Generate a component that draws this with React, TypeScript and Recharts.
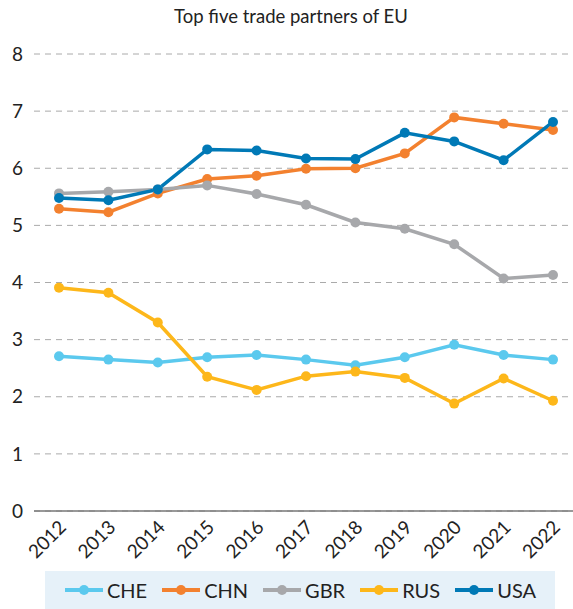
import React from 'react';
import { LineChart, Line, XAxis, YAxis, CartesianGrid, Legend } from 'recharts';

const years = ['2012', '2013', '2014', '2015', '2016', '2017', '2018', '2019', '2020', '2021', '2022'];

const che = [2.71, 2.65, 2.6, 2.69, 2.73, 2.65, 2.55, 2.69, 2.91, 2.73, 2.65];
const chn = [5.29, 5.23, 5.56, 5.81, 5.87, 5.99, 6.0, 6.26, 6.89, 6.78, 6.67];
const gbr = [5.56, 5.59, 5.63, 5.7, 5.55, 5.36, 5.05, 4.94, 4.67, 4.07, 4.13];
const rus = [3.91, 3.82, 3.3, 2.35, 2.12, 2.36, 2.44, 2.33, 1.88, 2.32, 1.93];
const usa = [5.48, 5.44, 5.63, 6.33, 6.31, 6.17, 6.16, 6.62, 6.47, 6.14, 6.81];

const yTicks = [0, 1, 2, 3, 4, 5, 6, 7, 8];

const seriesList = [
  { key: 'CHE', color: '#5BC9EE' },
  { key: 'CHN', color: '#F3812F' },
  { key: 'GBR', color: '#A7A8AB' },
  { key: 'RUS', color: '#FDB71A' },
  { key: 'USA', color: '#0079B6' },
];

const data = years.map((year, i) => ({
  year,
  CHE: che[i],
  CHN: chn[i],
  GBR: gbr[i],
  RUS: rus[i],
  USA: usa[i],
}));

const FONT = 'Lato, "Open Sans", sans-serif';

function YearTick({ x, y, payload }: any) {
  return (
    <g transform={`translate(${x - 1},${y})`}>
      <text
        transform="rotate(-45)"
        textAnchor="end"
        dy="0.7em"
        fontSize={19}
        fontFamily={FONT}
        fill="#222"
      >
        {payload.value}
      </text>
    </g>
  );
}

function renderLegend() {
  return (
    <div
      style={{
        display: 'flex',
        justifyContent: 'center',
        alignItems: 'center',
        height: 38,
        background: '#E6F1F9',
        fontFamily: FONT,
        fontSize: 20,
        color: '#222',
      }}
    >
      {seriesList.map((s) => (
        <div key={s.key} style={{ display: 'flex', alignItems: 'center', margin: '0 7px' }}>
          <svg width={40} height={12} style={{ marginRight: 3 }}>
            <line x1={1} y1={6} x2={39} y2={6} stroke={s.color} strokeWidth={4} />
            <circle cx={20} cy={6} r={5} fill={s.color} />
          </svg>
          <span>{s.key}</span>
        </div>
      ))}
    </div>
  );
}

export default function App() {
  return (
    <div style={{ position: 'absolute', left: 0, top: 0, width: 573, height: 609, background: '#fff' }}>
      <div
        style={{
          position: 'absolute',
          top: 5,
          left: 0,
          width: 582,
          textAlign: 'center',
          fontFamily: FONT,
          fontSize: 18.5,
          color: '#222',
        }}
      >
        Top five trade partners of EU
      </div>
      <LineChart
        width={573}
        height={609}
        data={data}
        margin={{ top: 54, right: 0, left: 0, bottom: 0 }}
      >
        <CartesianGrid vertical={false} stroke="#AAAAAA" strokeDasharray="6 5" />
        <XAxis
          dataKey="year"
          height={60}
          padding={{ left: 25, right: 20 }}
          tick={<YearTick />}
          tickLine={false}
          axisLine={{ stroke: '#777', strokeWidth: 1.5 }}
          interval={0}
        />
        <YAxis
          width={34}
          domain={[0, 8]}
          ticks={yTicks}
          tickLine={false}
          axisLine={false}
          tickMargin={5}
          tick={{ fontSize: 19, fontFamily: FONT, fill: '#222' }}
        />
        <Legend
          verticalAlign="bottom"
          content={renderLegend}
          wrapperStyle={{ left: 45, width: 510, bottom: 0 }}
        />
        {seriesList.map((s) => (
          <Line
            key={s.key}
            dataKey={s.key}
            type="linear"
            stroke={s.color}
            strokeWidth={3.5}
            dot={{ r: 5, fill: s.color, stroke: s.color, strokeWidth: 0 }}
            activeDot={false}
            isAnimationActive={false}
          />
        ))}
      </LineChart>
    </div>
  );
}
